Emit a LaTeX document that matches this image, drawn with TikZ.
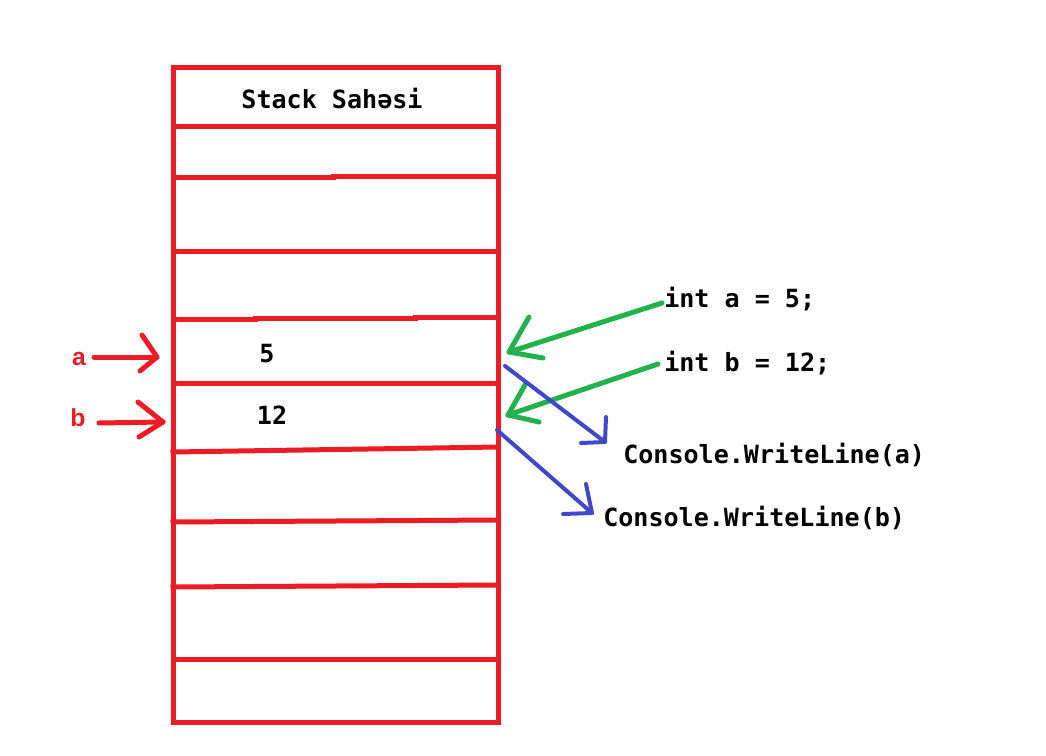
\documentclass[tikz,border=0pt]{standalone}
\usepackage{fontspec}
\newfontfamily\monob{DejaVu Sans Mono}[BoldFont={DejaVu Sans Mono Bold}]
\newfontfamily\sansb{Liberation Sans}
\definecolor{pred}{HTML}{ED1C24}
\definecolor{pgreen}{HTML}{22B14C}
\definecolor{pblue}{HTML}{3F48CC}
\tikzset{
  redline/.style={draw=pred,line width=3.75pt,line cap=rect},
  greenarr/.style={draw=pgreen,line width=3.75pt,line cap=round,line join=round},
  bluearr/.style={draw=pblue,line width=3pt,line cap=round,line join=round},
  redarr/.style={draw=pred,line width=3.75pt,line cap=round,line join=round},
  code/.style={inner sep=0pt,font=\monob\bfseries\fontsize{18.8pt}{20pt}\selectfont,text=black},
  lbl/.style={inner sep=0pt,font=\sansb\bfseries\fontsize{18.5pt}{20pt}\selectfont,text=pred},
}
\begin{document}
\begin{tikzpicture}[x=0.75pt,y=-0.75pt]
\useasboundingbox (0,0) rectangle (1046,756);
% stack box
\draw[redline] (173,68) rectangle (498,722);
\draw[redline] (173,127) -- (498,127);
\draw[redline] (173,178) -- (333,178) -- (333,177) -- (498,177);
\draw[redline] (173,251) -- (498,251);
\draw[redline] (173,319) -- (255,319) -- (255,318) -- (415,318) -- (415,317) -- (498,317);
\draw[redline] (173,383) -- (498,383);
\draw[redline] (173,452) -- (498,447);
\draw[redline] (173,522) -- (498,520);
\draw[redline] (173,587) -- (498,585);
\draw[redline] (173,659) -- (498,659);
% texts
\node[code,anchor=base] (title) at (332,109) {Stack Sahəsi};
\node[code,anchor=base] (v5) at (267,362) {5};
\node[code,anchor=base] (v12) at (272,424) {12};
\node[code,anchor=base west] (inta) at (664,307) {int a = 5;};
\node[code,anchor=base west] (intb) at (664,371) {int b = 12;};
\node[code,anchor=base west] (cwa) at (623,463) {Console.WriteLine(a)};
\node[code,anchor=base west] (cwb) at (603,526) {Console.WriteLine(b)};
\node[lbl,anchor=base] (la) at (79,365) {a};
\node[lbl,anchor=base] (lb) at (78,426) {b};
% red arrows
\coordinate (ta) at (157,357);
\coordinate (tb) at (163,422);
\draw[redarr] (94,357) -- (ta);
\draw[redarr] (142,335) -- (ta) -- (140,371);
\draw[redarr] (99,423) -- (tb);
\draw[redarr] (138,402) -- (tb) -- (139,437);
% green arrows
\coordinate (g1s) at (662,303);
\coordinate (g1t) at (509,352);
\coordinate (g2s) at (658,364);
\coordinate (g2t) at (508,415);
\draw[greenarr] (g1s) -- (g1t);
\draw[greenarr] (529,317) -- (g1t) -- (543,358);
\draw[greenarr] (g2s) -- (g2t);
\draw[greenarr] (525,385) -- (g2t) -- (539,422);
% blue arrows
\coordinate (b1s) at (505,366);
\coordinate (b1t) at (605,442);
\coordinate (b2s) at (497,430);
\coordinate (b2t) at (592,513);
\draw[bluearr] (b1s) -- (b1t);
\draw[bluearr] (606,417) -- (b1t) -- (581,443);
\draw[bluearr] (b2s) -- (b2t);
\draw[bluearr] (586,484) -- (b2t) -- (563,514);
\end{tikzpicture}
\end{document}
